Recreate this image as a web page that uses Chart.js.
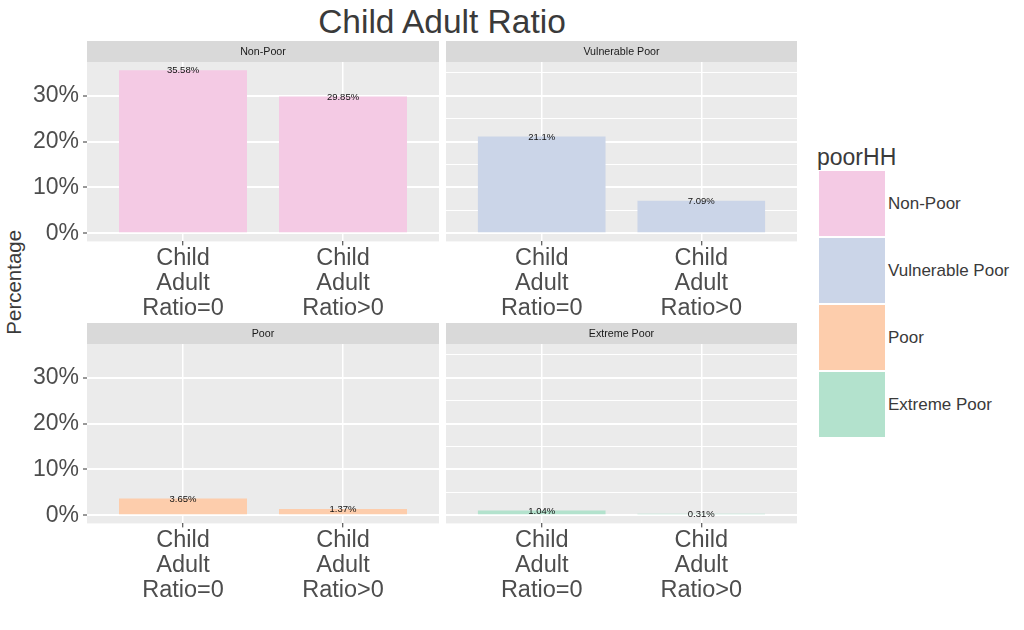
<!DOCTYPE html>
<html>
<head>
<meta charset="utf-8">
<script src="https://cdn.jsdelivr.net/npm/chart.js@4/dist/chart.umd.min.js"></script>
<style>
  html, body { margin:0; padding:0; background:#ffffff; }
  body { width:1024px; height:630px; position:relative; overflow:hidden; font-family:"Liberation Sans", Arial, sans-serif; }
  canvas { position:absolute; }
  .txt { position:absolute; white-space:nowrap; }
</style>
</head>
<body>
<div class="txt" id="title" style="left:242px;top:4.5px;width:400px;text-align:center;font-size:33.5px;line-height:33.5px;color:#3a3a3a;"></div>
<div class="txt" id="ytitle" style="left:-86px;top:272px;width:200px;height:20.5px;text-align:center;font-size:20.5px;line-height:20.5px;color:#3a3a3a;transform:rotate(-90deg);transform-origin:center center;"></div>
<canvas id="c0" width="439" height="281" style="left:0px;top:41px;"></canvas>
<canvas id="c1" width="351" height="281" style="left:446px;top:41px;"></canvas>
<canvas id="c2" width="439" height="300" style="left:0px;top:323px;"></canvas>
<canvas id="c3" width="351" height="300" style="left:446px;top:323px;"></canvas>
<div id="legend"></div>
<script>
// ---------------- data ----------------
const chartTitle = "Child Adult Ratio";
const yAxisTitle = "Percentage";
const legendTitle = "poorHH";
const categories = [["Child", "Adult", "Ratio=0"], ["Child", "Adult", "Ratio>0"]];
const groups = ["Non-Poor", "Vulnerable Poor", "Poor", "Extreme Poor"];
const nonPoor = [35.58, 29.85];
const vulnerablePoor = [21.1, 7.09];
const poor = [3.65, 1.37];
const extremePoor = [1.04, 0.31];
const majorTicks = [0, 10, 20, 30];
const minorTicks = [5, 15, 25, 35];
const groupColors = ["#F4CAE4", "#CBD5E8", "#FDCDAC", "#B3E2CD"];

const seriesByGroup = [nonPoor, vulnerablePoor, poor, extremePoor];
const FONT = '"Liberation Sans", Arial, sans-serif';
Chart.defaults.font.family = FONT;

const STRIP_H = 21;
const PANEL_H = 179.4;

// shared y range like ggplot (5% expansion of data range incl. 0)
const allVals = [].concat(...seriesByGroup);
const yHi = Math.max(...allVals);
const yPad = (yHi - 0) * 0.05;
const yMin = -yPad, yMax = yHi + yPad;
const allYTicks = majorTicks.concat(minorTicks).sort((a, b) => a - b);

const panelPlugin = {
  id: 'panel',
  beforeDraw(chart, args, opts) {
    const { ctx, chartArea: a } = chart;
    ctx.save();
    ctx.fillStyle = '#EBEBEB';
    ctx.fillRect(a.left, a.top, a.right - a.left, a.bottom - a.top);
    ctx.fillStyle = '#D9D9D9';
    ctx.fillRect(a.left, 0, a.right - a.left, a.top);
    ctx.fillStyle = '#1A1A1A';
    ctx.font = '10.7px ' + FONT;
    ctx.textAlign = 'center';
    ctx.textBaseline = 'middle';
    ctx.fillText(opts.strip, (a.left + a.right) / 2, a.top / 2 + 0.5);
    ctx.restore();
  },
  afterDatasetsDraw(chart) {
    const { ctx } = chart;
    const meta = chart.getDatasetMeta(0);
    const ds = chart.data.datasets[0];
    ctx.save();
    ctx.fillStyle = '#111111';
    ctx.font = '9.5px ' + FONT;
    ctx.textAlign = 'center';
    ctx.textBaseline = 'middle';
    meta.data.forEach((bar, i) => {
      ctx.fillText(ds.data[i].y + '%', bar.x, bar.y + 0.5);
    });
    ctx.restore();
  }
};

function makePanel(id, gi, showY) {
  const values = seriesByGroup[gi];
  return new Chart(document.getElementById(id), {
    type: 'bar',
    data: {
      datasets: [{
        data: values.map((v, i) => ({ x: i + 1, y: v })),
        backgroundColor: groupColors[gi],
        borderWidth: 0,
        barPercentage: 0.8,
        categoryPercentage: 1.0
      }]
    },
    plugins: [panelPlugin],
    options: {
      responsive: false,
      animation: false,
      devicePixelRatio: 1,
      layout: { padding: { top: STRIP_H, left: 0, right: 0, bottom: 0 } },
      plugins: {
        legend: { display: false },
        tooltip: { enabled: false },
        panel: { strip: groups[gi] }
      },
      scales: {
        x: {
          type: 'linear',
          offset: false,
          min: 0.4,
          max: 2.6,
          afterBuildTicks: (s) => { s.ticks = categories.map((c, i) => ({ value: i + 1 })); },
          afterFit: (s) => { s.height = s.chart.height - STRIP_H - PANEL_H; },
          border: { display: false },
          grid: {
            offset: false,
            color: '#FFFFFF',
            lineWidth: 1.5,
            drawTicks: true,
            tickLength: 4,
            tickColor: '#333333',
            tickWidth: 1
          },
          ticks: {
            autoSkip: false,
            maxRotation: 0,
            minRotation: 0,
            padding: 0,
            color: '#4D4D4D',
            font: { size: 23.5, lineHeight: 1.077 },
            callback: (v) => categories[Math.round(v) - 1]
          }
        },
        y: {
          type: 'linear',
          min: yMin,
          max: yMax,
          afterBuildTicks: (s) => { s.ticks = allYTicks.map(v => ({ value: v })); },
          afterFit: (s) => { s.width = showY ? 87 : 0; },
          border: { display: false },
          grid: {
            color: '#FFFFFF',
            lineWidth: (c) => (c.tick && majorTicks.includes(c.tick.value)) ? 2 : 1,
            drawTicks: showY,
            tickLength: 4,
            tickColor: (c) => (c.tick && majorTicks.includes(c.tick.value)) ? '#333333' : 'rgba(0,0,0,0)',
            tickWidth: 1
          },
          ticks: {
            display: showY,
            padding: 4,
            color: '#4D4D4D',
            font: { size: 23 },
            callback: (v) => majorTicks.includes(v) ? v + '%' : ''
          }
        }
      }
    }
  });
}

makePanel('c0', 0, true);
makePanel('c1', 1, false);
makePanel('c2', 2, true);
makePanel('c3', 3, false);

// texts
document.getElementById('title').textContent = chartTitle;
document.getElementById('ytitle').textContent = yAxisTitle;

// legend (HTML)
const lg = document.getElementById('legend');
const lt = document.createElement('div');
lt.className = 'txt';
lt.style.cssText = 'left:817px;top:145.5px;font-size:23px;line-height:23px;color:#3a3a3a;';
lt.textContent = legendTitle;
lg.appendChild(lt);
groups.forEach((g, i) => {
  const top = 171 + i * 67;
  const key = document.createElement('div');
  key.style.cssText = `position:absolute;left:819px;top:${top}px;width:66px;height:65px;background:${groupColors[i]};`;
  lg.appendChild(key);
  const lab = document.createElement('div');
  lab.className = 'txt';
  lab.style.cssText = `left:888px;top:${top + 32.5 - 8.5}px;font-size:17px;line-height:17px;color:#3a3a3a;`;
  lab.textContent = g;
  lg.appendChild(lab);
});
</script>
</body>
</html>
